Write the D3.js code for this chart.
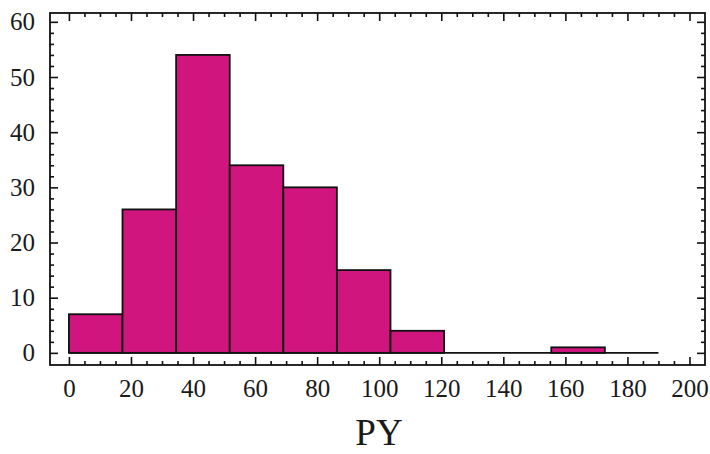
<!DOCTYPE html>
<html>
<head>
<meta charset="utf-8">
<script src="https://cdn.jsdelivr.net/npm/d3@7"></script>
<style>
  body { margin: 0; background: #fff; }
  svg { display: block; }
  .axis text { font-family: "Liberation Serif", "Times New Roman", serif; font-size: 25px; fill: #1a1a1a; }
  .axis path, .axis line { stroke: #111; stroke-width: 1.6; }
</style>
</head>
<body>
<div id="area"></div>
<script>
// histogram of PY, 11 equal bins from 0 to 190
const binStarts = [0, 17.27, 34.55, 51.82, 69.09, 86.36, 103.64, 120.91, 138.18, 155.45, 172.73];
const binEnd = 190;
const counts = [7, 26, 54, 34, 30, 15, 4, 0, 0, 1, 0];
const xTicks = [0, 20, 40, 60, 80, 100, 120, 140, 160, 180, 200];
const yTicks = [0, 10, 20, 30, 40, 50, 60];

const width = 710, height = 454;
const plotLeft = 50, plotRight = 705, plotTop = 13, plotBottom = 365;
const bar_color = '#d0157f';

const svg = d3.select('#area').append('svg')
    .attr('width', width)
    .attr('height', height);

const x = d3.scaleLinear().domain([-6.1, 205]).range([plotLeft, plotRight]);
const y = d3.scaleLinear().domain([-2.2, 61.6]).range([plotBottom, plotTop]);

const xMinor = d3.range(5, 200, 5).filter(v => v % 20 !== 0);
const yMinor = d3.range(2, 60, 2).filter(v => v % 10 !== 0);

// bars
const bins = counts.map((c, i) => ({
    x0: binStarts[i],
    x1: i < binStarts.length - 1 ? binStarts[i + 1] : binEnd,
    n: c
}));

// baseline across all bins (empty bins show as a line)
svg.append('line')
    .attr('x1', x(0)).attr('x2', x(binEnd))
    .attr('y1', y(0)).attr('y2', y(0))
    .attr('stroke', '#111').attr('stroke-width', 1.8);

svg.selectAll('rect.bar')
    .data(bins.filter(d => d.n > 0))
    .enter().append('rect')
    .attr('class', 'bar')
    .attr('x', d => x(d.x0))
    .attr('width', d => x(d.x1) - x(d.x0))
    .attr('y', d => y(d.n))
    .attr('height', d => y(0) - y(d.n))
    .attr('fill', bar_color)
    .attr('stroke', '#111')
    .attr('stroke-width', 1.8);

// frame
svg.append('rect')
    .attr('x', plotLeft).attr('y', plotTop)
    .attr('width', plotRight - plotLeft).attr('height', plotBottom - plotTop)
    .attr('fill', 'none')
    .attr('stroke', '#111')
    .attr('stroke-width', 1.8);

// bottom axis, ticks pointing inward
const gb = svg.append('g').attr('class', 'axis')
    .attr('transform', 'translate(0,' + plotBottom + ')');
gb.call(d3.axisBottom(x).tickValues(xTicks).tickSizeInner(-8).tickSizeOuter(0).tickPadding(14));
gb.append('g').call(d3.axisBottom(x).tickValues(xMinor).tickSizeInner(-4).tickSizeOuter(0).tickFormat(''));

// top axis
const gt = svg.append('g').attr('class', 'axis')
    .attr('transform', 'translate(0,' + plotTop + ')');
gt.call(d3.axisTop(x).tickValues(xTicks).tickSizeInner(-8).tickSizeOuter(0).tickFormat(''));
gt.append('g').call(d3.axisTop(x).tickValues(xMinor).tickSizeInner(-4).tickSizeOuter(0).tickFormat(''));

// left axis
const gl = svg.append('g').attr('class', 'axis')
    .attr('transform', 'translate(' + plotLeft + ',0)');
gl.call(d3.axisLeft(y).tickValues(yTicks).tickSizeInner(-8).tickSizeOuter(0).tickPadding(15));
gl.append('g').call(d3.axisLeft(y).tickValues(yMinor).tickSizeInner(-4).tickSizeOuter(0).tickFormat(''));

// right axis
const gr = svg.append('g').attr('class', 'axis')
    .attr('transform', 'translate(' + plotRight + ',0)');
gr.call(d3.axisRight(y).tickValues(yTicks).tickSizeInner(-8).tickSizeOuter(0).tickFormat(''));
gr.append('g').call(d3.axisRight(y).tickValues(yMinor).tickSizeInner(-4).tickSizeOuter(0).tickFormat(''));

svg.selectAll('.axis path.domain').remove();

// axis title
svg.append('text')
    .attr('x', 379)
    .attr('y', 445)
    .attr('text-anchor', 'middle')
    .attr('font-family', '"Liberation Serif", "Times New Roman", serif')
    .attr('font-size', '37px')
    .attr('fill', '#1a1a1a')
    .text('PY');
</script>
</body>
</html>
